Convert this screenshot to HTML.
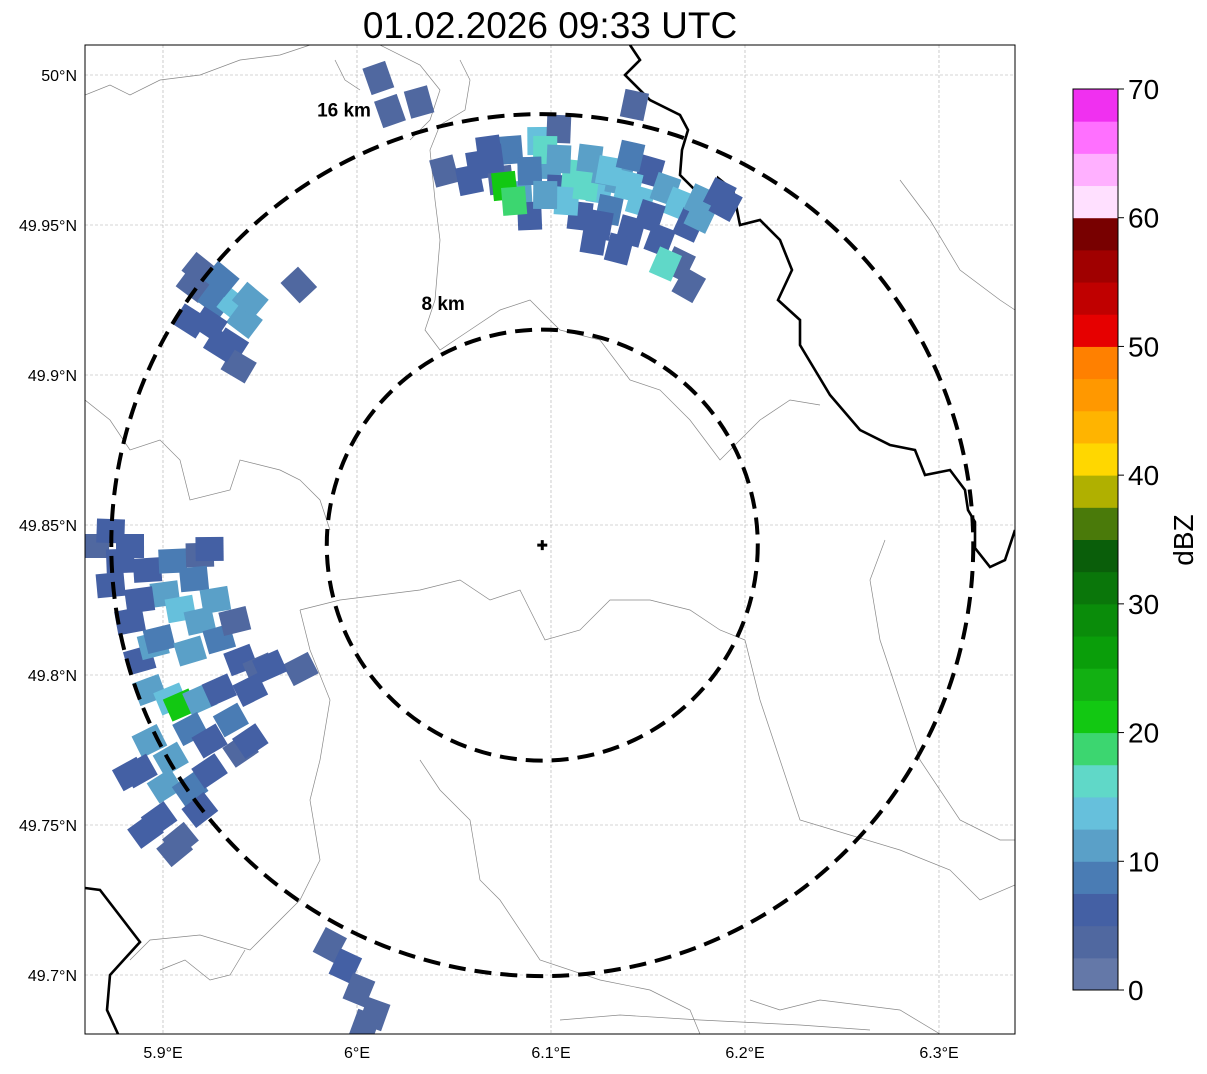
<!DOCTYPE html>
<html><head><meta charset="utf-8"><style>
body{margin:0;background:#fff;font-family:"Liberation Sans",sans-serif}
svg text{font-family:"Liberation Sans",sans-serif}
</style></head><body>
<svg id="c" width="1207" height="1069" xmlns="http://www.w3.org/2000/svg">
<text x="550" y="38" font-size="37" text-anchor="middle">01.02.2026 09:33 UTC</text>
<defs><clipPath id="cp"><rect x="85" y="45" width="930" height="989"/></clipPath></defs>
<g id="grid"></g>
<g clip-path="url(#cp)">
<g id="map"></g>
<g id="echo"></g>
<g id="rings"></g>
</g>
<rect x="85" y="45" width="930" height="989" fill="none" stroke="#000" stroke-width="1"/>
<g id="ticks"></g>
<g id="cbar"></g>
</svg>
<script>
const NS='http://www.w3.org/2000/svg';
const lonTicks=[5.9,6.0,6.1,6.2,6.3];
const lonLabels=['5.9°E','6°E','6.1°E','6.2°E','6.3°E'];
const latTicks=[50.0,49.95,49.9,49.85,49.8,49.75,49.7];
const latLabels=['50°N','49.95°N','49.9°N','49.85°N','49.8°N','49.75°N','49.7°N'];
const radarLon=6.0955, radarLat=49.8433;
const ringKm=[8,16];
const cellLon=[6.063,6.074,6.084,6.079,6.094,6.099,6.104,6.112,6.120,6.125,6.130,6.135,6.146,6.151,6.159,6.166,6.171,6.177,6.187,6.125,6.115,6.141,6.156,6.166,6.171,6.159,6.089,6.076,6.081,6.045,6.017,6.032,6.011,6.143,6.104,6.097,6.108,6.118,6.140,6.128,6.089,6.069,
6.068,6.089,6.104,6.130,6.141,6.151,6.177,6.190,6.058,6.097,6.122,6.135,
5.916,5.927,5.937,5.942,5.924,5.935,5.919,5.939,5.970,5.930,5.914,5.945,5.930,
5.865,5.878,5.892,5.905,5.919,5.901,5.909,5.919,5.888,5.929,5.940,5.950,5.971,5.893,5.904,5.909,5.919,5.929,5.888,5.914,5.924,5.940,5.893,5.888,5.901,5.914,5.898,5.909,5.883,5.937,5.873,5.895,
5.873,5.883,5.924,5.916,5.927,5.898,5.914,5.945,5.955,5.935,5.945,5.904,5.924,5.883,5.919,5.906,5.891,
5.986,5.994,6.001,6.009,6.004];
const cellLat=[49.970,49.965,49.960,49.975,49.978,49.970,49.962,49.967,49.972,49.962,49.955,49.965,49.958,49.968,49.962,49.957,49.950,49.958,49.960,49.950,49.953,49.948,49.945,49.937,49.930,49.937,49.953,49.963,49.958,49.968,49.988,49.991,49.999,49.990,49.982,49.975,49.958,49.963,49.963,49.968,49.968,49.972,
49.975,49.968,49.972,49.968,49.973,49.953,49.953,49.957,49.965,49.960,49.945,49.942,
49.930,49.925,49.923,49.918,49.917,49.910,49.935,49.903,49.930,49.932,49.918,49.925,49.910,
49.843,49.838,49.835,49.838,49.840,49.827,49.822,49.818,49.825,49.812,49.805,49.802,49.802,49.795,49.792,49.790,49.792,49.795,49.805,49.782,49.778,49.775,49.778,49.768,49.763,49.762,49.752,49.745,49.818,49.818,49.830,49.810,
49.848,49.843,49.842,49.832,49.825,49.812,49.808,49.795,49.803,49.785,49.778,49.772,49.768,49.767,49.755,49.742,49.748,
49.710,49.703,49.695,49.687,49.683];
const cellDbz=[5,3,12,8,14,10,6,16,12,14,8,12,14,6,10,14,5,12,5,5,7,6,6,4,3,16,5,22,18,4,4,4,3,3,3,16,13,15,13,11,9,7,
6,9,12,14,8,7,10,6,5,11,6,5,
4,8,14,10,5,5,4,3,3,9,6,12,5,
4,5,6,8,4,12,14,10,6,8,5,4,3,12,14,22,10,7,5,8,5,4,12,6,12,8,5,4,5,4,5,11,
5,6,7,9,10,9,11,6,5,8,6,10,7,6,7,4,5,
4,5,3,3,3];
const cbLevels=[0,2.5,5,7.5,10,12.5,15,17.5,20,22.5,25,27.5,30,32.5,35,37.5,40,42.5,45,47.5,50,52.5,55,57.5,60,62.5,65,67.5,70];
const cbColors=['#6478a8','#5068a0','#4460a4','#4a7cb4','#5aa0c8','#66c0dc','#60d8c8','#3cd670','#12c812','#12b012','#0a9e0a','#0a8c0a','#0a760a','#0a5e0a','#4a7a0a','#b0b000','#ffd700','#ffb400','#ff9800','#ff8000','#e60000','#c00000','#a00000','#780000','#ffe0ff','#ffb0ff','#ff70ff','#f030f0'];
const cbTicks=[0,10,20,30,40,50,60,70];

const X0=163,PXLON=1940,Y0=75,PXLAT=3000;
const xs=lon=>X0+(lon-5.9)*PXLON, ys=lat=>Y0+(50-lat)*PXLAT;
function el(t,a,p){const e=document.createElementNS(NS,t);for(const k in a)e.setAttribute(k,a[k]);p.appendChild(e);return e;}
const grid=document.getElementById('grid'),ticks=document.getElementById('ticks');
lonTicks.forEach((v,i)=>{const x=xs(v);
 const l=el('line',{x1:x,x2:x,y1:45,y2:1034,stroke:'#aaa','stroke-width':0.6,'stroke-dasharray':'3,2'},grid);
 
 const t=el('text',{x:x,y:1058,'font-size':16,'text-anchor':'middle'},ticks);t.textContent=lonLabels[i];
 });
latTicks.forEach((v,i)=>{const y=ys(v);
 const l=el('line',{x1:85,x2:1015,y1:y,y2:y,stroke:'#aaa','stroke-width':0.6,'stroke-dasharray':'3,2'},grid);
 
 const t=el('text',{x:77,y:y+6,'font-size':16,'text-anchor':'end'},ticks);t.textContent=latLabels[i];
 });

const map=document.getElementById('map');
const gray=[
'M85,95 L110,85 L130,95 L160,80 L200,75 L240,60 L280,55 L310,45',
'M380,45 L420,65 L440,90 L430,120 L410,140',
'M460,60 L470,80 L465,110 L440,125 L430,150 L435,200 L440,240 L435,300 L425,330 L440,350 L470,330 L500,310 L530,300 L560,330 L600,340 L630,380 L660,390 L690,420 L720,460 L740,440 L760,420 L790,400 L820,405',
'M85,400 L110,420 L130,450 L160,440 L180,460 L190,500 L230,490 L240,460 L280,470 L300,480 L320,500 L330,530',
'M300,610 L340,600 L380,595 L420,590 L460,580 L490,600 L520,590 L545,640 L580,630 L610,600 L650,600 L690,610 L720,630 L745,640',
'M300,610 L310,650 L330,700 L320,760 L310,800 L320,860 L300,900 L250,950 L200,935 L150,940 L130,960',
'M420,760 L440,790 L470,820 L480,880 L500,900 L540,960 L600,980 L650,990 L690,1010 L700,1034',
'M745,640 L760,700 L780,760 L800,820 L850,835 L900,850 L950,870 L980,900 L1015,885',
'M885,540 L870,580 L880,640 L900,700 L920,760 L960,820 L1000,840 L1015,840',
'M245,950 L230,975 L210,980 L185,960 L160,970',
'M560,1020 L620,1015 L700,1020 L800,1025 L870,1030',
'M750,1000 L780,1010 L820,1000 L900,1010 L940,1034',
'M900,180 L930,220 L960,270 L1000,300 L1015,310',
'M335,60 L345,80 L360,90'];
gray.forEach(d=>{const p=el('path',{d:d,fill:'none',stroke:'#888','stroke-width':0.7},map);
 });
const black=['M630,45 L640,60 L625,75 L650,100 L680,115 L688,130 L682,150 L680,175 L700,195 L712,208 L718,178 L733,190 L740,225 L760,220 L780,240 L792,270 L778,300 L800,320 L800,345 L815,370 L830,395 L860,430 L890,445 L915,450 L925,475 L950,470 L965,490 L968,510 L975,522 L975,548 L990,567 L1005,560 L1015,530',
'M85,888 L100,890 L140,942 L110,975 L107,1010 L118,1034'];
black.forEach(d=>{const p=el('path',{d:d,fill:'none',stroke:'#000','stroke-width':2.6},map);
 });

function colorFor(v){for(let i=cbLevels.length-2;i>=0;i--)if(v>=cbLevels[i])return cbColors[i];return cbColors[0];}
const echo=document.getElementById('echo'),cx=xs(radarLon),cy=ys(radarLat);
cellLon.forEach((lo,i)=>{const x=xs(lo),y=ys(cellLat[i]);
 const ang=Math.atan2(y-cy,x-cx)*180/Math.PI;
 const r=el('rect',{x:x-14,y:y-12,width:28,height:24,fill:colorFor(cellDbz[i]),transform:`rotate(${ang} ${x} ${y})`},echo);
 });

const rings=document.getElementById('rings');
const pxPerKm=431/16;
ringKm.forEach(k=>{const r=k*pxPerKm;
 const c=el('circle',{cx:cx,cy:cy,r:r,fill:'none',stroke:'#000','stroke-width':4,'stroke-dasharray':'17,9'},rings);
 
 const t=el('text',{x:cx-0.46*r,y:cy-r*(k===8?1.09:0.995),'font-size':19,'font-weight':'bold','text-anchor':'middle'},rings);
 t.textContent=k+' km';});
const m=el('path',{d:`M${cx-5},${cy}H${cx+5}M${cx},${cy-5}V${cy+5}`,stroke:'#000','stroke-width':3},rings);


const cb=document.getElementById('cbar'),CB_TOP=89,CB_BOT=990,CBX=1073,CBW=45;
const cbY=v=>CB_BOT-(v/70)*(CB_BOT-CB_TOP);
cbColors.forEach((c,i)=>{const y1=cbY(cbLevels[i+1]),y0=cbY(cbLevels[i]);
 const r=el('rect',{x:CBX,y:y1,width:CBW,height:y0-y1+0.5,fill:c},cb);
 });
el('rect',{x:CBX,y:CB_TOP,width:CBW,height:CB_BOT-CB_TOP,fill:'none',stroke:'#000','stroke-width':1},cb);
cbTicks.forEach(v=>{const y=cbY(v);
 el('line',{x1:CBX+CBW,x2:CBX+CBW+6,y1:y,y2:y,stroke:'#000'},cb);
 const t=el('text',{x:CBX+CBW+10,y:y+10,'font-size':28},cb);t.textContent=v;
 });
const ct=el('text',{x:1193,y:540,'font-size':28,'text-anchor':'middle',transform:'rotate(-90 1193 540)'},cb);
ct.textContent='dBZ';
</script>
</body></html>
